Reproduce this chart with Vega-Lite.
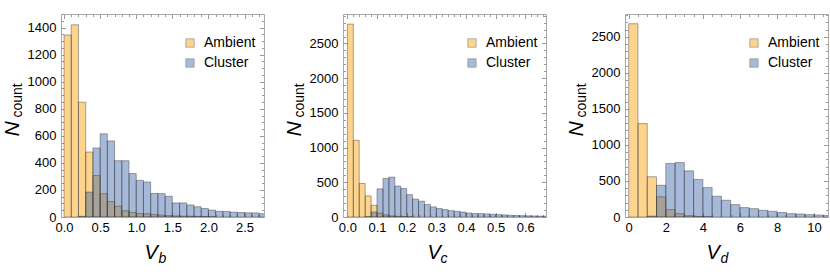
{
  "$schema": "https://vega.github.io/schema/vega-lite/v6.json",
  "autosize": {"type": "none"},
  "padding": {"left": 61, "top": 14, "right": 769, "bottom": 262},
  "bounds": "flush",
  "spacing": 79,
  "datasets": {
    "b": [
      {"s": "Ambient", "lo": 0.0, "hi": 0.1, "n": 1345},
      {"s": "Ambient", "lo": 0.1, "hi": 0.2, "n": 1420},
      {"s": "Ambient", "lo": 0.2, "hi": 0.3, "n": 848},
      {"s": "Ambient", "lo": 0.3, "hi": 0.4, "n": 480},
      {"s": "Ambient", "lo": 0.4, "hi": 0.5, "n": 306},
      {"s": "Ambient", "lo": 0.5, "hi": 0.6, "n": 172},
      {"s": "Ambient", "lo": 0.6, "hi": 0.7, "n": 114},
      {"s": "Ambient", "lo": 0.7, "hi": 0.8, "n": 80},
      {"s": "Ambient", "lo": 0.8, "hi": 0.9, "n": 46},
      {"s": "Ambient", "lo": 0.9, "hi": 1.0, "n": 34},
      {"s": "Ambient", "lo": 1.0, "hi": 1.1, "n": 25},
      {"s": "Ambient", "lo": 1.1, "hi": 1.2, "n": 24},
      {"s": "Ambient", "lo": 1.2, "hi": 1.3, "n": 18},
      {"s": "Ambient", "lo": 1.3, "hi": 1.4, "n": 14},
      {"s": "Ambient", "lo": 1.4, "hi": 1.5, "n": 10},
      {"s": "Ambient", "lo": 1.5, "hi": 1.6, "n": 8},
      {"s": "Ambient", "lo": 1.6, "hi": 1.7, "n": 6},
      {"s": "Ambient", "lo": 1.7, "hi": 1.8, "n": 5},
      {"s": "Ambient", "lo": 1.8, "hi": 1.9, "n": 4},
      {"s": "Ambient", "lo": 1.9, "hi": 2.0, "n": 3},
      {"s": "Ambient", "lo": 2.0, "hi": 2.1, "n": 2},
      {"s": "Cluster", "lo": 0.2, "hi": 0.3, "n": 5},
      {"s": "Cluster", "lo": 0.3, "hi": 0.4, "n": 184},
      {"s": "Cluster", "lo": 0.4, "hi": 0.5, "n": 510},
      {"s": "Cluster", "lo": 0.5, "hi": 0.6, "n": 615},
      {"s": "Cluster", "lo": 0.6, "hi": 0.7, "n": 562},
      {"s": "Cluster", "lo": 0.7, "hi": 0.8, "n": 416},
      {"s": "Cluster", "lo": 0.8, "hi": 0.9, "n": 416},
      {"s": "Cluster", "lo": 0.9, "hi": 1.0, "n": 321},
      {"s": "Cluster", "lo": 1.0, "hi": 1.1, "n": 271},
      {"s": "Cluster", "lo": 1.1, "hi": 1.2, "n": 259},
      {"s": "Cluster", "lo": 1.2, "hi": 1.3, "n": 174},
      {"s": "Cluster", "lo": 1.3, "hi": 1.4, "n": 173},
      {"s": "Cluster", "lo": 1.4, "hi": 1.5, "n": 153},
      {"s": "Cluster", "lo": 1.5, "hi": 1.6, "n": 104},
      {"s": "Cluster", "lo": 1.6, "hi": 1.7, "n": 104},
      {"s": "Cluster", "lo": 1.7, "hi": 1.8, "n": 89},
      {"s": "Cluster", "lo": 1.8, "hi": 1.9, "n": 76},
      {"s": "Cluster", "lo": 1.9, "hi": 2.0, "n": 63},
      {"s": "Cluster", "lo": 2.0, "hi": 2.1, "n": 51},
      {"s": "Cluster", "lo": 2.1, "hi": 2.2, "n": 42},
      {"s": "Cluster", "lo": 2.2, "hi": 2.3, "n": 41},
      {"s": "Cluster", "lo": 2.3, "hi": 2.4, "n": 36},
      {"s": "Cluster", "lo": 2.4, "hi": 2.5, "n": 33},
      {"s": "Cluster", "lo": 2.5, "hi": 2.6, "n": 31},
      {"s": "Cluster", "lo": 2.6, "hi": 2.7, "n": 30},
      {"s": "Cluster", "lo": 2.7, "hi": 2.8, "n": 24}
    ],
    "c": [
      {"s": "Ambient", "lo": 0.00, "hi": 0.02, "n": 2780},
      {"s": "Ambient", "lo": 0.02, "hi": 0.04, "n": 1105},
      {"s": "Ambient", "lo": 0.04, "hi": 0.06, "n": 483},
      {"s": "Ambient", "lo": 0.06, "hi": 0.08, "n": 305},
      {"s": "Ambient", "lo": 0.08, "hi": 0.10, "n": 169},
      {"s": "Ambient", "lo": 0.10, "hi": 0.12, "n": 55},
      {"s": "Ambient", "lo": 0.12, "hi": 0.14, "n": 30},
      {"s": "Ambient", "lo": 0.14, "hi": 0.16, "n": 15},
      {"s": "Ambient", "lo": 0.16, "hi": 0.18, "n": 9},
      {"s": "Ambient", "lo": 0.18, "hi": 0.20, "n": 6},
      {"s": "Ambient", "lo": 0.20, "hi": 0.22, "n": 4},
      {"s": "Cluster", "lo": 0.06, "hi": 0.08, "n": 4},
      {"s": "Cluster", "lo": 0.08, "hi": 0.10, "n": 72},
      {"s": "Cluster", "lo": 0.10, "hi": 0.12, "n": 406},
      {"s": "Cluster", "lo": 0.12, "hi": 0.14, "n": 555},
      {"s": "Cluster", "lo": 0.14, "hi": 0.16, "n": 575},
      {"s": "Cluster", "lo": 0.16, "hi": 0.18, "n": 446},
      {"s": "Cluster", "lo": 0.18, "hi": 0.20, "n": 412},
      {"s": "Cluster", "lo": 0.20, "hi": 0.22, "n": 322},
      {"s": "Cluster", "lo": 0.22, "hi": 0.24, "n": 258},
      {"s": "Cluster", "lo": 0.24, "hi": 0.26, "n": 228},
      {"s": "Cluster", "lo": 0.26, "hi": 0.28, "n": 180},
      {"s": "Cluster", "lo": 0.28, "hi": 0.30, "n": 146},
      {"s": "Cluster", "lo": 0.30, "hi": 0.32, "n": 122},
      {"s": "Cluster", "lo": 0.32, "hi": 0.34, "n": 107},
      {"s": "Cluster", "lo": 0.34, "hi": 0.36, "n": 92},
      {"s": "Cluster", "lo": 0.36, "hi": 0.38, "n": 82},
      {"s": "Cluster", "lo": 0.38, "hi": 0.40, "n": 72},
      {"s": "Cluster", "lo": 0.40, "hi": 0.42, "n": 58},
      {"s": "Cluster", "lo": 0.42, "hi": 0.44, "n": 50},
      {"s": "Cluster", "lo": 0.44, "hi": 0.46, "n": 49},
      {"s": "Cluster", "lo": 0.46, "hi": 0.48, "n": 45},
      {"s": "Cluster", "lo": 0.48, "hi": 0.50, "n": 40},
      {"s": "Cluster", "lo": 0.50, "hi": 0.52, "n": 35},
      {"s": "Cluster", "lo": 0.52, "hi": 0.54, "n": 30},
      {"s": "Cluster", "lo": 0.54, "hi": 0.56, "n": 25},
      {"s": "Cluster", "lo": 0.56, "hi": 0.58, "n": 21},
      {"s": "Cluster", "lo": 0.58, "hi": 0.60, "n": 20},
      {"s": "Cluster", "lo": 0.60, "hi": 0.62, "n": 17},
      {"s": "Cluster", "lo": 0.62, "hi": 0.64, "n": 15},
      {"s": "Cluster", "lo": 0.64, "hi": 0.66, "n": 12},
      {"s": "Cluster", "lo": 0.66, "hi": 0.68, "n": 11}
    ],
    "d": [
      {"s": "Ambient", "lo": 0.0, "hi": 0.5, "n": 2680},
      {"s": "Ambient", "lo": 0.5, "hi": 1.0, "n": 1295},
      {"s": "Ambient", "lo": 1.0, "hi": 1.5, "n": 558},
      {"s": "Ambient", "lo": 1.5, "hi": 2.0, "n": 280},
      {"s": "Ambient", "lo": 2.0, "hi": 2.5, "n": 102},
      {"s": "Ambient", "lo": 2.5, "hi": 3.0, "n": 46},
      {"s": "Ambient", "lo": 3.0, "hi": 3.5, "n": 18},
      {"s": "Ambient", "lo": 3.5, "hi": 4.0, "n": 8},
      {"s": "Ambient", "lo": 4.0, "hi": 4.5, "n": 4},
      {"s": "Cluster", "lo": 1.0, "hi": 1.5, "n": 12},
      {"s": "Cluster", "lo": 1.5, "hi": 2.0, "n": 440},
      {"s": "Cluster", "lo": 2.0, "hi": 2.5, "n": 742},
      {"s": "Cluster", "lo": 2.5, "hi": 3.0, "n": 755},
      {"s": "Cluster", "lo": 3.0, "hi": 3.5, "n": 640},
      {"s": "Cluster", "lo": 3.5, "hi": 4.0, "n": 520},
      {"s": "Cluster", "lo": 4.0, "hi": 4.5, "n": 408},
      {"s": "Cluster", "lo": 4.5, "hi": 5.0, "n": 288},
      {"s": "Cluster", "lo": 5.0, "hi": 5.5, "n": 232},
      {"s": "Cluster", "lo": 5.5, "hi": 6.0, "n": 172},
      {"s": "Cluster", "lo": 6.0, "hi": 6.5, "n": 130},
      {"s": "Cluster", "lo": 6.5, "hi": 7.0, "n": 116},
      {"s": "Cluster", "lo": 7.0, "hi": 7.5, "n": 93},
      {"s": "Cluster", "lo": 7.5, "hi": 8.0, "n": 79},
      {"s": "Cluster", "lo": 8.0, "hi": 8.5, "n": 62},
      {"s": "Cluster", "lo": 8.5, "hi": 9.0, "n": 47},
      {"s": "Cluster", "lo": 9.0, "hi": 9.5, "n": 42},
      {"s": "Cluster", "lo": 9.5, "hi": 10.0, "n": 33},
      {"s": "Cluster", "lo": 10.0, "hi": 10.5, "n": 28},
      {"s": "Cluster", "lo": 10.5, "hi": 11.0, "n": 20}
    ]
  },
  "hconcat": [
    {
      "width": 203, "height": 203,
      "data": {"name": "b"},
      "resolve": {"axis": {"x": "independent", "y": "independent"}},
      "layer": [
        {
          "transform": [{"filter": "datum.s === 'Ambient'"}],
          "mark": {"type": "bar", "clip": true},
          "encoding": {
            "x": {"field": "lo", "type": "quantitative", "scale": {"domain": [-0.042, 2.77], "nice": false, "zero": false},
              "axis": {"orient": "bottom", "values": [0, 0.5, 1, 1.5, 2, 2.5], "format": ".1f", "ticks": false, "labelPadding": 4,
                "title": "V", "titleFontSize": 20, "titleFontStyle": "italic", "titleAlign": "left", "titleBaseline": "alphabetic", "titleX": 83, "titleY": 41}},
            "x2": {"field": "hi"},
            "y": {"field": "n", "type": "quantitative", "scale": {"domain": [0, 1500], "nice": false},
              "axis": {"orient": "left", "values": [0, 200, 400, 600, 800, 1000, 1200, 1400], "format": "d", "ticks": false, "labelPadding": 5,
                "title": "N", "titleFontSize": 21, "titleFontStyle": "italic", "titleAngle": 270, "titleAlign": "left", "titleBaseline": "alphabetic", "titleX": -43, "titleY": 122}},
            "y2": {"datum": 0},
            "color": {"field": "s", "type": "nominal", "scale": {"domain": ["Ambient", "Cluster"], "range": ["#FDD48D", "rgba(59,99,168,0.45)"]},
              "legend": {"title": null, "orient": "none", "legendX": 122, "legendY": 22, "labelFont": "Liberation Sans", "labelFontSize": 14, "labelColor": "black", "symbolType": "square", "symbolSize": 70, "symbolStrokeColor": "#9a9a9a", "symbolStrokeWidth": 0.8, "rowPadding": 6, "labelOffset": 7}}
          }
        },
        {
          "transform": [{"filter": "datum.s === 'Cluster'"}],
          "mark": {"type": "bar", "clip": true},
          "encoding": {
            "x": {"field": "lo", "type": "quantitative",
              "axis": {"orient": "bottom", "values": [0, 0.1, 0.2, 0.3, 0.4, 0.5, 0.6, 0.7, 0.8, 0.9, 1, 1.1, 1.2, 1.3, 1.4, 1.5, 1.6, 1.7, 1.8, 1.9, 2, 2.1, 2.2, 2.3, 2.4, 2.5, 2.6, 2.7], "labels": false,
                "tickSize": {"condition": {"test": "abs(datum.value*2 - round(datum.value*2)) < 0.01", "value": -4.5}, "value": -2.5},
                "title": "b", "titleFontSize": 14, "titleFontStyle": "italic", "titleAlign": "left", "titleBaseline": "alphabetic", "titleX": 97, "titleY": 45}},
            "x2": {"field": "hi"},
            "y": {"field": "n", "type": "quantitative",
              "axis": {"orient": "left", "values": [0, 50, 100, 150, 200, 250, 300, 350, 400, 450, 500, 550, 600, 650, 700, 750, 800, 850, 900, 950, 1000, 1050, 1100, 1150, 1200, 1250, 1300, 1350, 1400, 1450, 1500], "labels": false,
                "tickSize": {"condition": {"test": "datum.value % 200 === 0", "value": -4.5}, "value": -2.5},
                "title": "count", "titleFontSize": 14, "titleAngle": 270, "titleAlign": "left", "titleBaseline": "alphabetic", "titleX": -40, "titleY": 103}},
            "y2": {"datum": 0},
            "color": {"field": "s", "type": "nominal"}
          }
        },
        {
          "mark": {"type": "bar", "clip": true, "fillOpacity": 0, "stroke": "#3a3a3a", "strokeOpacity": 0.55, "strokeWidth": 0.8},
          "encoding": {
            "x": {"field": "lo", "type": "quantitative",
              "axis": {"orient": "top", "values": [0, 0.1, 0.2, 0.3, 0.4, 0.5, 0.6, 0.7, 0.8, 0.9, 1, 1.1, 1.2, 1.3, 1.4, 1.5, 1.6, 1.7, 1.8, 1.9, 2, 2.1, 2.2, 2.3, 2.4, 2.5, 2.6, 2.7], "labels": false, "title": null,
                "tickSize": {"condition": {"test": "abs(datum.value*2 - round(datum.value*2)) < 0.01", "value": -4.5}, "value": -2.5}}},
            "x2": {"field": "hi"},
            "y": {"field": "n", "type": "quantitative",
              "axis": {"orient": "right", "values": [0, 50, 100, 150, 200, 250, 300, 350, 400, 450, 500, 550, 600, 650, 700, 750, 800, 850, 900, 950, 1000, 1050, 1100, 1150, 1200, 1250, 1300, 1350, 1400, 1450, 1500], "labels": false, "title": null,
                "tickSize": {"condition": {"test": "datum.value % 200 === 0", "value": -4.5}, "value": -2.5}}},
            "y2": {"datum": 0}
          }
        }
      ]
    },
    {
      "width": 203, "height": 203,
      "data": {"name": "c"},
      "resolve": {"axis": {"x": "independent", "y": "independent"}},
      "layer": [
        {
          "transform": [{"filter": "datum.s === 'Ambient'"}],
          "mark": {"type": "bar", "clip": true},
          "encoding": {
            "x": {"field": "lo", "type": "quantitative", "scale": {"domain": [-0.0148, 0.67], "nice": false, "zero": false},
              "axis": {"orient": "bottom", "values": [0, 0.1, 0.2, 0.3, 0.4, 0.5, 0.6], "format": ".1f", "ticks": false, "labelPadding": 4,
                "title": "V", "titleFontSize": 20, "titleFontStyle": "italic", "titleAlign": "left", "titleBaseline": "alphabetic", "titleX": 84, "titleY": 41}},
            "x2": {"field": "hi"},
            "y": {"field": "n", "type": "quantitative", "scale": {"domain": [0, 2925], "nice": false},
              "axis": {"orient": "left", "values": [0, 500, 1000, 1500, 2000, 2500], "format": "d", "ticks": false, "labelPadding": 5,
                "title": "N", "titleFontSize": 21, "titleFontStyle": "italic", "titleAngle": 270, "titleAlign": "left", "titleBaseline": "alphabetic", "titleX": -43, "titleY": 122}},
            "y2": {"datum": 0},
            "color": {"field": "s", "type": "nominal", "scale": {"domain": ["Ambient", "Cluster"], "range": ["#FDD48D", "rgba(59,99,168,0.45)"]},
              "legend": {"title": null, "orient": "none", "legendX": 122, "legendY": 22, "labelFont": "Liberation Sans", "labelFontSize": 14, "labelColor": "black", "symbolType": "square", "symbolSize": 70, "symbolStrokeColor": "#9a9a9a", "symbolStrokeWidth": 0.8, "rowPadding": 6, "labelOffset": 7}}
          }
        },
        {
          "transform": [{"filter": "datum.s === 'Cluster'"}],
          "mark": {"type": "bar", "clip": true},
          "encoding": {
            "x": {"field": "lo", "type": "quantitative",
              "axis": {"orient": "bottom", "values": [0, 0.02, 0.04, 0.06, 0.08, 0.1, 0.12, 0.14, 0.16, 0.18, 0.2, 0.22, 0.24, 0.26, 0.28, 0.3, 0.32, 0.34, 0.36, 0.38, 0.4, 0.42, 0.44, 0.46, 0.48, 0.5, 0.52, 0.54, 0.56, 0.58, 0.6, 0.62, 0.64, 0.66], "labels": false,
                "tickSize": {"condition": {"test": "abs(datum.value*10 - round(datum.value*10)) < 0.01", "value": -4.5}, "value": -2.5},
                "title": "c", "titleFontSize": 14, "titleFontStyle": "italic", "titleAlign": "left", "titleBaseline": "alphabetic", "titleX": 97, "titleY": 45}},
            "x2": {"field": "hi"},
            "y": {"field": "n", "type": "quantitative",
              "axis": {"orient": "left", "values": [0, 100, 200, 300, 400, 500, 600, 700, 800, 900, 1000, 1100, 1200, 1300, 1400, 1500, 1600, 1700, 1800, 1900, 2000, 2100, 2200, 2300, 2400, 2500, 2600, 2700, 2800, 2900], "labels": false,
                "tickSize": {"condition": {"test": "datum.value % 500 === 0", "value": -4.5}, "value": -2.5},
                "title": "count", "titleFontSize": 14, "titleAngle": 270, "titleAlign": "left", "titleBaseline": "alphabetic", "titleX": -40, "titleY": 103}},
            "y2": {"datum": 0},
            "color": {"field": "s", "type": "nominal"}
          }
        },
        {
          "mark": {"type": "bar", "clip": true, "fillOpacity": 0, "stroke": "#3a3a3a", "strokeOpacity": 0.55, "strokeWidth": 0.8},
          "encoding": {
            "x": {"field": "lo", "type": "quantitative",
              "axis": {"orient": "top", "values": [0, 0.02, 0.04, 0.06, 0.08, 0.1, 0.12, 0.14, 0.16, 0.18, 0.2, 0.22, 0.24, 0.26, 0.28, 0.3, 0.32, 0.34, 0.36, 0.38, 0.4, 0.42, 0.44, 0.46, 0.48, 0.5, 0.52, 0.54, 0.56, 0.58, 0.6, 0.62, 0.64, 0.66], "labels": false, "title": null,
                "tickSize": {"condition": {"test": "abs(datum.value*10 - round(datum.value*10)) < 0.01", "value": -4.5}, "value": -2.5}}},
            "x2": {"field": "hi"},
            "y": {"field": "n", "type": "quantitative",
              "axis": {"orient": "right", "values": [0, 100, 200, 300, 400, 500, 600, 700, 800, 900, 1000, 1100, 1200, 1300, 1400, 1500, 1600, 1700, 1800, 1900, 2000, 2100, 2200, 2300, 2400, 2500, 2600, 2700, 2800, 2900], "labels": false, "title": null,
                "tickSize": {"condition": {"test": "datum.value % 500 === 0", "value": -4.5}, "value": -2.5}}},
            "y2": {"datum": 0}
          }
        }
      ]
    },
    {
      "width": 203, "height": 203,
      "data": {"name": "d"},
      "resolve": {"axis": {"x": "independent", "y": "independent"}},
      "layer": [
        {
          "transform": [{"filter": "datum.s === 'Ambient'"}],
          "mark": {"type": "bar", "clip": true},
          "encoding": {
            "x": {"field": "lo", "type": "quantitative", "scale": {"domain": [-0.2, 10.75], "nice": false, "zero": false},
              "axis": {"orient": "bottom", "values": [0, 2, 4, 6, 8, 10], "format": "d", "ticks": false, "labelPadding": 4,
                "title": "V", "titleFontSize": 20, "titleFontStyle": "italic", "titleAlign": "left", "titleBaseline": "alphabetic", "titleX": 81, "titleY": 41}},
            "x2": {"field": "hi"},
            "y": {"field": "n", "type": "quantitative", "scale": {"domain": [0, 2815], "nice": false},
              "axis": {"orient": "left", "values": [0, 500, 1000, 1500, 2000, 2500], "format": "d", "ticks": false, "labelPadding": 5,
                "title": "N", "titleFontSize": 21, "titleFontStyle": "italic", "titleAngle": 270, "titleAlign": "left", "titleBaseline": "alphabetic", "titleX": -43, "titleY": 122}},
            "y2": {"datum": 0},
            "color": {"field": "s", "type": "nominal", "scale": {"domain": ["Ambient", "Cluster"], "range": ["#FDD48D", "rgba(59,99,168,0.45)"]},
              "legend": {"title": null, "orient": "none", "legendX": 122, "legendY": 22, "labelFont": "Liberation Sans", "labelFontSize": 14, "labelColor": "black", "symbolType": "square", "symbolSize": 70, "symbolStrokeColor": "#9a9a9a", "symbolStrokeWidth": 0.8, "rowPadding": 6, "labelOffset": 7}}
          }
        },
        {
          "transform": [{"filter": "datum.s === 'Cluster'"}],
          "mark": {"type": "bar", "clip": true},
          "encoding": {
            "x": {"field": "lo", "type": "quantitative",
              "axis": {"orient": "bottom", "values": [0, 0.5, 1, 1.5, 2, 2.5, 3, 3.5, 4, 4.5, 5, 5.5, 6, 6.5, 7, 7.5, 8, 8.5, 9, 9.5, 10, 10.5], "labels": false,
                "tickSize": {"condition": {"test": "datum.value % 2 === 0", "value": -4.5}, "value": -2.5},
                "title": "d", "titleFontSize": 14, "titleFontStyle": "italic", "titleAlign": "left", "titleBaseline": "alphabetic", "titleX": 95, "titleY": 45}},
            "x2": {"field": "hi"},
            "y": {"field": "n", "type": "quantitative",
              "axis": {"orient": "left", "values": [0, 100, 200, 300, 400, 500, 600, 700, 800, 900, 1000, 1100, 1200, 1300, 1400, 1500, 1600, 1700, 1800, 1900, 2000, 2100, 2200, 2300, 2400, 2500, 2600, 2700, 2800], "labels": false,
                "tickSize": {"condition": {"test": "datum.value % 500 === 0", "value": -4.5}, "value": -2.5},
                "title": "count", "titleFontSize": 14, "titleAngle": 270, "titleAlign": "left", "titleBaseline": "alphabetic", "titleX": -40, "titleY": 103}},
            "y2": {"datum": 0},
            "color": {"field": "s", "type": "nominal"}
          }
        },
        {
          "mark": {"type": "bar", "clip": true, "fillOpacity": 0, "stroke": "#3a3a3a", "strokeOpacity": 0.55, "strokeWidth": 0.8},
          "encoding": {
            "x": {"field": "lo", "type": "quantitative",
              "axis": {"orient": "top", "values": [0, 0.5, 1, 1.5, 2, 2.5, 3, 3.5, 4, 4.5, 5, 5.5, 6, 6.5, 7, 7.5, 8, 8.5, 9, 9.5, 10, 10.5], "labels": false, "title": null,
                "tickSize": {"condition": {"test": "datum.value % 2 === 0", "value": -4.5}, "value": -2.5}}},
            "x2": {"field": "hi"},
            "y": {"field": "n", "type": "quantitative",
              "axis": {"orient": "right", "values": [0, 100, 200, 300, 400, 500, 600, 700, 800, 900, 1000, 1100, 1200, 1300, 1400, 1500, 1600, 1700, 1800, 1900, 2000, 2100, 2200, 2300, 2400, 2500, 2600, 2700, 2800], "labels": false, "title": null,
                "tickSize": {"condition": {"test": "datum.value % 500 === 0", "value": -4.5}, "value": -2.5}}},
            "y2": {"datum": 0}
          }
        }
      ]
    }
  ],
  "resolve": {"scale": {"color": "independent"}, "legend": {"color": "independent"}},
  "config": {
    "view": {"stroke": "#aaaaaa", "strokeWidth": 1},
    "axis": {"labelFont": "Liberation Sans", "labelFontSize": 13, "labelColor": "black", "titleFont": "Liberation Sans", "titleColor": "black", "titleFontWeight": "normal", "domain": false, "grid": false, "tickColor": "#9a9a9a", "tickWidth": 1}
  }
}
